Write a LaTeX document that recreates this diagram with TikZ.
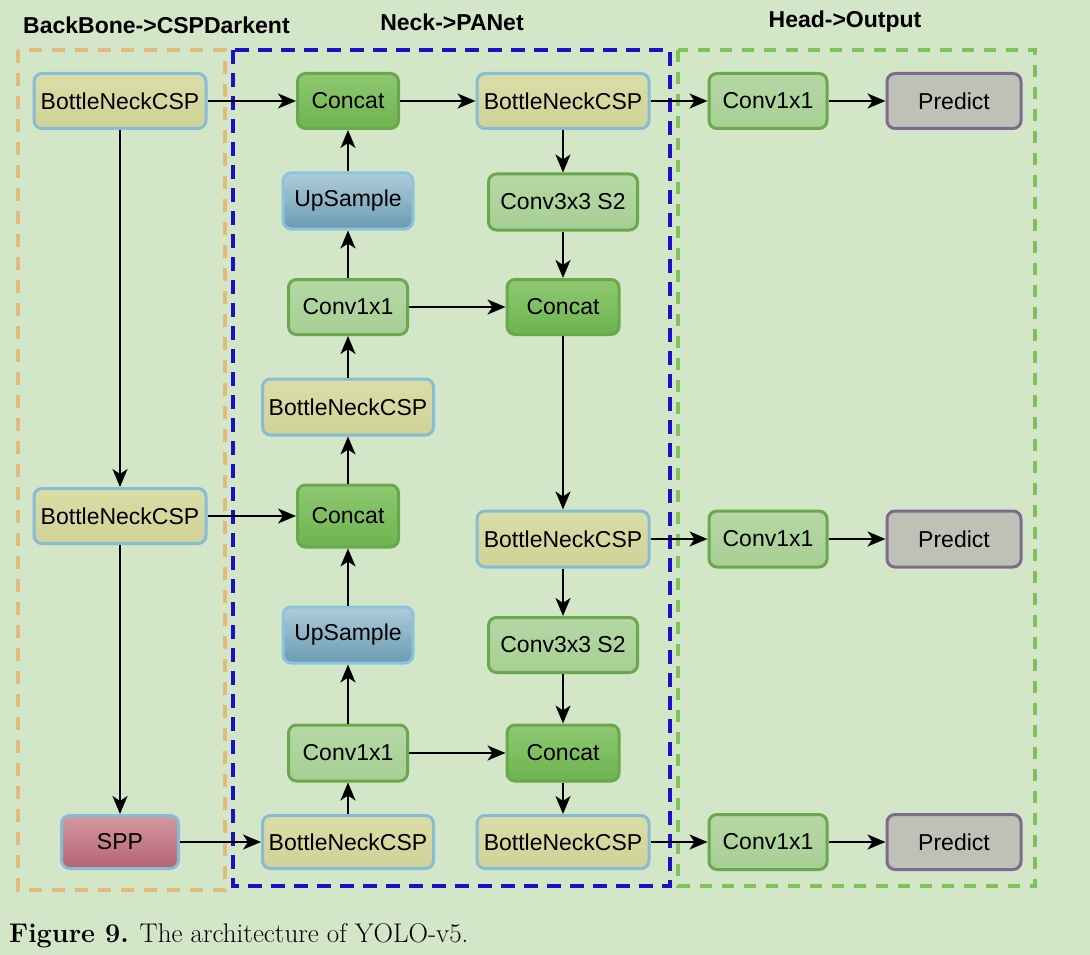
\documentclass[tikz,border=0pt]{standalone}
\usepackage{fontspec}
\newfontfamily\arial{Liberation Sans}
\usetikzlibrary{arrows.meta}
\definecolor{bg}{HTML}{D3E6C8}
\definecolor{bncfillA}{HTML}{DADDA8}
\definecolor{bncfillB}{HTML}{CFD396}
\definecolor{bluedge}{HTML}{86BCD6}
\definecolor{catA}{HTML}{8FC871}
\definecolor{catB}{HTML}{6DB450}
\definecolor{grnedge}{HTML}{69A84C}
\definecolor{convA}{HTML}{B5D8A4}
\definecolor{convB}{HTML}{A7CF95}
\definecolor{upA}{HTML}{AECCD9}
\definecolor{upB}{HTML}{6B9BB3}
\definecolor{upedge}{HTML}{8CC3DD}
\definecolor{sppA}{HTML}{D39AA0}
\definecolor{sppB}{HTML}{B66273}
\definecolor{predfill}{HTML}{BEC1B6}
\definecolor{prededge}{HTML}{80698F}
\definecolor{orangedash}{HTML}{E2BA7C}
\definecolor{bluedash}{HTML}{1E0FC4}
\definecolor{greendash}{HTML}{7DC25B}
\begin{document}
\begin{tikzpicture}[x=1pt,y=-1pt,
  box/.style={rounded corners=8pt, line width=3pt, inner sep=0pt, font=\arial\fontsize{23}{26}\selectfont, text=black},
  bnc/.style={box, draw=bluedge, top color=bncfillA, bottom color=bncfillB, minimum width=172pt, minimum height=55pt},
  cat/.style={box, draw=grnedge, top color=catA, bottom color=catB},
  conv/.style={box, draw=grnedge, top color=convA, bottom color=convB},
  ups/.style={box, draw=upedge, top color=upA, bottom color=upB, minimum width=130pt, minimum height=56pt},
  spp/.style={box, draw=bluedge, top color=sppA, bottom color=sppB},
  pred/.style={box, draw=prededge, fill=predfill, minimum width=134pt, minimum height=55pt},
  hconv/.style={conv, minimum width=118pt, minimum height=55pt},
  arr/.style={line width=2.2pt, -{Stealth[length=18pt, width=15pt, inset=5pt]}},
  ttl/.style={font=\arial\bfseries\fontsize{23}{26}\selectfont, text=black, inner sep=0pt}
]
\fill[bg] (0,0) rectangle (1090,955);
\useasboundingbox (0,0) rectangle (1090,955);

% group frames
\draw[orangedash, line width=3.5pt, dash pattern=on 13pt off 10pt] (18,50) rectangle (225,890);
\draw[bluedash, line width=4pt, dash pattern=on 14pt off 9pt] (233,50) rectangle (670,886);
\draw[greendash, line width=3.5pt, dash pattern=on 12pt off 10pt] (678,50) rectangle (1035,886);

% titles
\node[ttl, anchor=west] (t1) at (23,25) {BackBone->CSPDarkent};
\node[ttl] (t2) at (452,22) {Neck->PANet};
\node[ttl] (t3) at (845,22) {Head->Output};

% backbone
\node[bnc] (bb1) at (120,101) {BottleNeckCSP};
\node[bnc] (bb2) at (120,516) {BottleNeckCSP};
\node[spp, minimum width=117pt, minimum height=53pt] (spp) at (120,842) {SPP};

% neck left
\node[cat, minimum width=101pt, minimum height=55pt] (nc1) at (348,101) {Concat};
\node[ups] (nu1) at (348,201) {UpSample};
\node[conv, minimum width=119pt, minimum height=55pt] (nv1) at (348,307) {Conv1x1};
\node[bnc, minimum width=171pt, minimum height=56pt] (nb1) at (348,407) {BottleNeckCSP};
\node[cat, minimum width=101pt, minimum height=62pt] (nc2) at (348,516) {Concat};
\node[ups] (nu2) at (348,635) {UpSample};
\node[conv, minimum width=119pt, minimum height=56pt] (nv2) at (348,753) {Conv1x1};
\node[bnc, minimum width=171pt, minimum height=53pt] (nb2) at (348,842) {BottleNeckCSP};

% neck right
\node[bnc] (rb1) at (563,101) {BottleNeckCSP};
\node[conv, minimum width=149pt, minimum height=56pt] (rs1) at (563,202) {Conv3x3 S2};
\node[cat, minimum width=112pt, minimum height=55pt] (rc1) at (563,307) {Concat};
\node[bnc, minimum height=56pt] (rb2) at (563,539) {BottleNeckCSP};
\node[conv, minimum width=149pt, minimum height=55pt] (rs2) at (563,645) {Conv3x3 S2};
\node[cat, minimum width=112pt, minimum height=56pt] (rc2) at (563,753) {Concat};
\node[bnc, minimum height=53pt] (rb3) at (563,842) {BottleNeckCSP};

% head
\node[hconv] (hv1) at (768,101) {Conv1x1};
\node[hconv, minimum height=56pt] (hv2) at (768,539) {Conv1x1};
\node[hconv] (hv3) at (768,842) {Conv1x1};
\node[pred] (hp1) at (954,101) {Predict};
\node[pred, minimum height=56pt] (hp2) at (954,539) {Predict};
\node[pred] (hp3) at (954,842) {Predict};

% connectors backbone
\draw[arr] (bb1) -- (nc1);
\draw[arr] (bb1) -- (bb2);
\draw[arr] (bb2) -- (nc2);
\draw[arr] (bb2) -- (spp);
\draw[arr] (spp) -- (nb2);

% neck left upward
\draw[arr] (nb2) -- (nv2);
\draw[arr] (nv2) -- (nu2);
\draw[arr] (nu2) -- (nc2);
\draw[arr] (nc2) -- (nb1);
\draw[arr] (nb1) -- (nv1);
\draw[arr] (nv1) -- (nu1);
\draw[arr] (nu1) -- (nc1);

% neck right
\draw[arr] (nc1) -- (rb1);
\draw[arr] (rb1) -- (rs1);
\draw[arr] (rs1) -- (rc1);
\draw[arr] (nv1) -- (rc1);
\draw[arr] (rc1) -- (rb2);
\draw[arr] (rb2) -- (rs2);
\draw[arr] (rs2) -- (rc2);
\draw[arr] (nv2) -- (rc2);
\draw[arr] (rc2) -- (rb3);

% head
\draw[arr] (rb1) -- (hv1);
\draw[arr] (rb2) -- (hv2);
\draw[arr] (rb3) -- (hv3);
\draw[arr] (hv1) -- (hp1);
\draw[arr] (hv2) -- (hp2);
\draw[arr] (hv3) -- (hp3);

% caption
\node[anchor=west, inner sep=0pt, font=\fontsize{27}{30}\selectfont] (cap) at (9,936) {\textbf{Figure 9.} The architecture of YOLO-v5.};
\end{tikzpicture}
\end{document}
